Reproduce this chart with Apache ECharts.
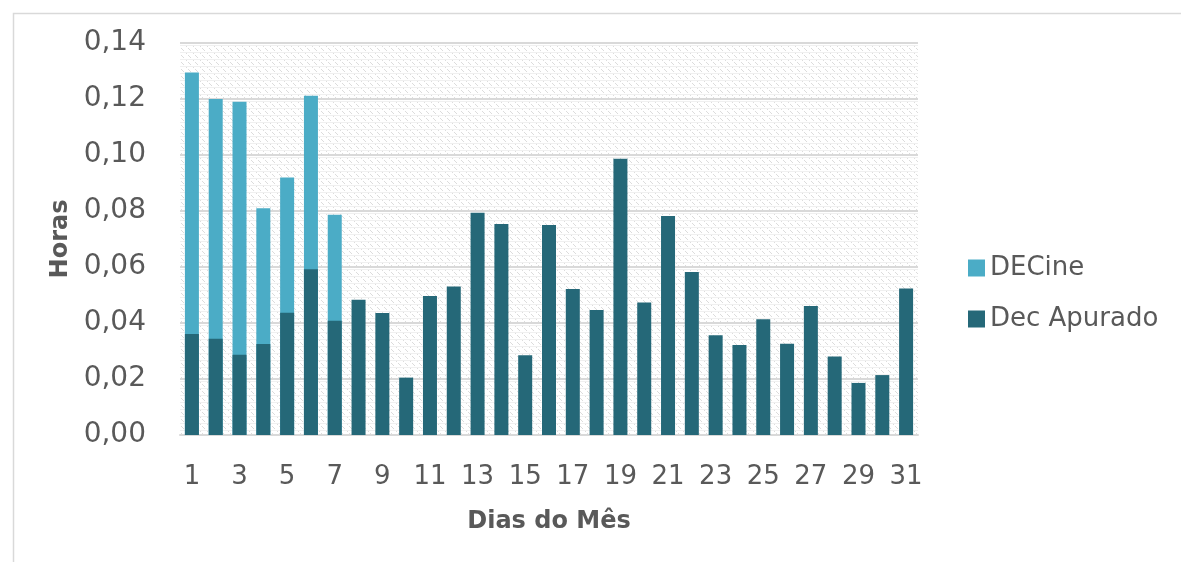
<!DOCTYPE html>
<html>
<head>
<meta charset="utf-8">
<script src="https://cdn.jsdelivr.net/npm/echarts@6/dist/echarts.min.js"></script>
<style>
html,body{margin:0;padding:0;background:#fff;}
#c{width:1181px;height:562px;}
</style>
</head>
<body>
<div id="c"></div>
<script>
const days = ['1','2','3','4','5','6','7','8','9','10','11','12','13','14','15','16','17','18','19','20','21','22','23','24','25','26','27','28','29','30','31'];
// DECine total (drawn behind)
const decine = [0.1295,0.1200,0.1190,0.0810,0.0920,0.1212,0.0787,null,null,null,null,null,null,null,null,null,null,null,null,null,null,null,null,null,null,null,null,null,null,null,null];
// Dec Apurado
const decApurado = [0.0361,0.0344,0.0287,0.0325,0.0437,0.0592,0.0408,0.0483,0.0436,0.0205,0.0496,0.0530,0.0794,0.0754,0.0285,0.0750,0.0521,0.0446,0.0987,0.0473,0.0782,0.0582,0.0356,0.0321,0.0413,0.0326,0.0461,0.0280,0.0186,0.0214,0.0523];
const yTicks = [0,0.02,0.04,0.06,0.08,0.10,0.12,0.14];

const cv = document.createElement('canvas');
cv.width = 7; cv.height = 7;
const g = cv.getContext('2d');
g.fillStyle = '#ffffff';
g.fillRect(0,0,7,7);
g.fillStyle = '#dcdcdc';
for (let i = 0; i < 7; i++) { if (i % 3 !== 2) g.fillRect(i, i, 1, 1); }
g.fillStyle = '#f0f0f0';
g.fillRect(0,3,7,1);

const chart = echarts.init(document.getElementById('c'));
const font = '"DejaVu Sans", sans-serif';
chart.setOption({
  animation: false,
  textStyle: {fontFamily: font},
  graphic: [{
    type: 'rect', left: 11, top: 11, silent: true,
    shape: {width: 1200, height: 600},
    style: {fill: null, stroke: '#d9d9d9', lineWidth: 1.5}
  }],
  grid: {left: 180, right: 263, top: 43, bottom: 127, show: true,
         backgroundColor: {image: cv, repeat: 'repeat'}, borderWidth: 0},
  legend: {
    orient: 'vertical', left: 963, top: 250, itemGap: 25,
    icon: 'rect', itemWidth: 17, itemHeight: 17,
    textStyle: {fontSize: 26, color: '#595959', fontFamily: font},
    data: ['DECine','Dec Apurado']
  },
  xAxis: {
    type: 'category', data: days,
    name: 'Dias do Mês', nameLocation: 'middle', nameGap: 75,
    nameTextStyle: {fontSize: 24, fontWeight: 'bold', color: '#595959', fontFamily: font},
    axisLine: {lineStyle: {color: '#d9d9d9', width: 2}},
    axisTick: {show: false},
    axisLabel: {interval: 1, fontSize: 26, color: '#595959', margin: 29, fontFamily: font}
  },
  yAxis: {
    type: 'value', min: 0, max: 0.14, interval: 0.02,
    name: 'Horas', nameLocation: 'middle', nameGap: 106,
    nameTextStyle: {fontSize: 24, fontWeight: 'bold', color: '#595959', fontFamily: font},
    axisLine: {show: false}, axisTick: {show: false},
    axisLabel: {fontSize: 28, color: '#595959', margin: 34, fontFamily: font,
      formatter: v => v.toFixed(2).replace('.', ',')},
    splitLine: {lineStyle: {color: '#d9d9d9', width: 2}}
  },
  series: [
    {name: 'DECine', type: 'bar', data: decine, barWidth: 14, barGap: '-100%',
     itemStyle: {color: '#4bacc6'}},
    {name: 'Dec Apurado', type: 'bar', data: decApurado, barWidth: 14, barGap: '-100%',
     itemStyle: {color: '#256878'}}
  ]
});
</script>
</body>
</html>
